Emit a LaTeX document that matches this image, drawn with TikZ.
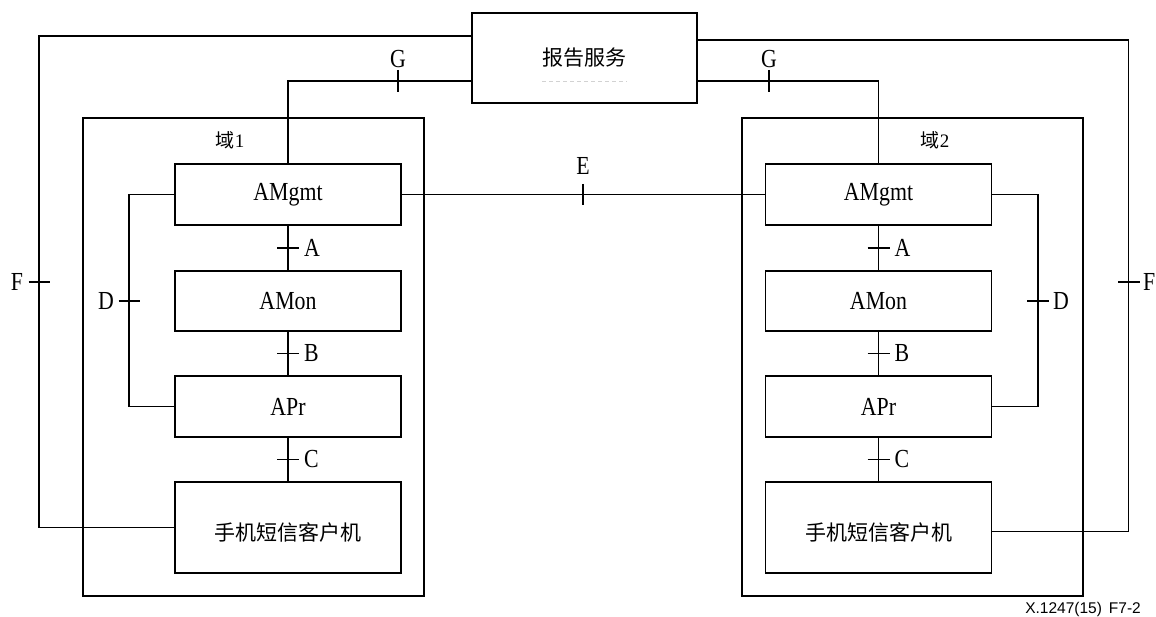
\documentclass[tikz,border=0pt]{standalone}
\usepackage{fontspec}
\usepackage{graphicx}
\setmainfont{Liberation Serif}
\newfontfamily\cjk{Noto Sans CJK SC}
\newfontfamily\arialf{Liberation Sans}
\usetikzlibrary{calc}
\newcommand{\narrowtxt}[1]{\scalebox{0.84}[1]{#1}}

\begin{document}
\begin{tikzpicture}[x=1pt,y=-1pt,
  unit/.style={draw, line width=1.5pt, inner sep=0pt, minimum width=226pt},
  dombox/.style={draw, line width=1.5pt, inner sep=0pt, minimum width=341pt, minimum height=478pt},
  wire/.style={line width=1.5pt},
  lat/.style={font=\fontsize{26}{26}\selectfont, inner sep=0pt},
  zh/.style={font=\cjk\fontsize{21}{21}\selectfont, inner sep=0pt},
  dlabel/.style={font=\fontsize{19}{19}\selectfont, inner sep=0pt},
]
\fill[white] (0,0) rectangle (1156,617);
\useasboundingbox (0,0) rectangle (1156,617);

% reporting service
\node[draw, line width=1.5pt, minimum width=225pt, minimum height=90pt, inner sep=0pt] (rep) at (584.5,58) {};
\node[zh] (reptxt) at (584.5,58) {报告服务};
\draw[gray!35, line width=0.8pt, dash pattern=on 4pt off 3pt] (reptxt.south west |- 0,81) coordinate (rdA) -- (rdA -| reptxt.south east);

% domains
\node[dombox] (dom1) at (253.5,357) {};
\node[dombox] (dom2) at (912.5,357) {};
\node[dlabel] (d1lab) at (230,140) {{\cjk 域}1};
\node[dlabel] (d2lab) at (935,140) {{\cjk 域}2};

% domain 1 stack
\node[unit, minimum height=61pt, lat] (mg1)  at (288,194.5) {\narrowtxt{AMgmt}};
\node[unit, minimum height=60pt, lat] (mon1) at (288,301)   {\narrowtxt{AMon}};
\node[unit, minimum height=61pt, lat] (pr1)  at (288,406.5) {\narrowtxt{APr}};
\node[unit, minimum height=91pt] (cl1)  at (288,527.5) {};
\node[zh] (cl1txt) at (288,532) {手机短信客户机};

% domain 2 stack
\node[unit, minimum height=61pt, lat] (mg2)  at (878.5,194.5) {\narrowtxt{AMgmt}};
\node[unit, minimum height=60pt, lat] (mon2) at (878.5,301)   {\narrowtxt{AMon}};
\node[unit, minimum height=61pt, lat] (pr2)  at (878.5,406.5) {\narrowtxt{APr}};
\node[unit, minimum height=91pt] (cl2)  at (878.5,527.5) {};
\node[zh] (cl2txt) at (878.5,532) {手机短信客户机};

% routing corners
\coordinate (fL) at (39,36);
\coordinate (gL) at (288,81);
\coordinate (dL) at (129,195);
\coordinate (fR) at (1128.5,40);
\coordinate (gR) at (878.5,81);
\coordinate (dR) at (1038,195);

% connectors
\draw[wire] (rep.west |- fL) -- (fL) |- (cl1.west);
\draw[wire] (rep.west |- gL) -- (gL) -- (mg1.north);
\draw[wire] (mg1.west) -- (mg1.west -| dL) -- (pr1.west -| dL) -- (pr1.west);
\draw[wire] (mg1.south) -- (mon1.north);
\draw[wire] (mon1.south) -- (pr1.north);
\draw[wire] (pr1.south) -- (cl1.north);
\draw[wire] (mg1.east) -- (mg2.west);
\draw[wire] (rep.east |- fR) -- (fR) |- ([yshift=-4pt]cl2.east);
\draw[wire] (rep.east |- gR) -- (gR) -- (mg2.north);
\draw[wire] (mg2.east) -- (mg2.east -| dR) -- (pr2.east -| dR) -- (pr2.east);
\draw[wire] (mg2.south) -- (mon2.north);
\draw[wire] (mon2.south) -- (pr2.north);
\draw[wire] (pr2.south) -- (cl2.north);

% reference point ticks and labels
\foreach \u/\l/\s in {mg1/mon1/A1, mon1/pr1/B1, pr1/cl1/C1, mg2/mon2/A2, mon2/pr2/B2, pr2/cl2/C2} {
  \coordinate (t\s) at ($(\u.south)!0.5!(\l.north)$);
  \draw[wire] (t\s) +(-11,0) -- +(11,0);
}
\node[lat, anchor=west] (labA1) at ($(tA1)+(16,0)$) {\narrowtxt{A}};
\node[lat, anchor=west] (labB1) at ($(tB1)+(16,0)$) {\narrowtxt{B}};
\node[lat, anchor=west] (labC1) at ($(tC1)+(16,0)$) {\narrowtxt{C}};
\node[lat, anchor=west] (labA2) at ($(tA2)+(16,0)$) {\narrowtxt{A}};
\node[lat, anchor=west] (labB2) at ($(tB2)+(16,0)$) {\narrowtxt{B}};
\node[lat, anchor=west] (labC2) at ($(tC2)+(16,0)$) {\narrowtxt{C}};

% D
\draw[wire] (118.5,301) -- (140,301);
\node[lat] (labD1) at (106,301) {\narrowtxt{D}};
\draw[wire] (1027,301) -- (1048.5,301);
\node[lat, anchor=west] (labD2) at (1053,301) {\narrowtxt{D}};

% F
\draw[wire] (28.5,282) -- (50,282);
\node[lat] (labF1) at (17,282) {\narrowtxt{F}};
\draw[wire] (1118,282) -- (1139.5,282);
\node[lat, anchor=west] (labF2) at (1143,282) {\narrowtxt{F}};

% G
\draw[wire] (398,70) -- (398,92);
\node[lat] (labG1) at (398,59) {\narrowtxt{G}};
\draw[wire] (769,70) -- (769,92);
\node[lat] (labG2) at (769,59) {\narrowtxt{G}};

% E
\draw[wire] (583,184) -- (583,205);
\node[lat] (labE) at (583,166) {\narrowtxt{E}};

% figure number
\node[font=\arialf\fontsize{15.5}{15.5}\selectfont, anchor=east, inner sep=0pt] (fignum) at (1141,609) {X.1247(15)\hspace{7pt}F7-2};
\end{tikzpicture}
\end{document}
